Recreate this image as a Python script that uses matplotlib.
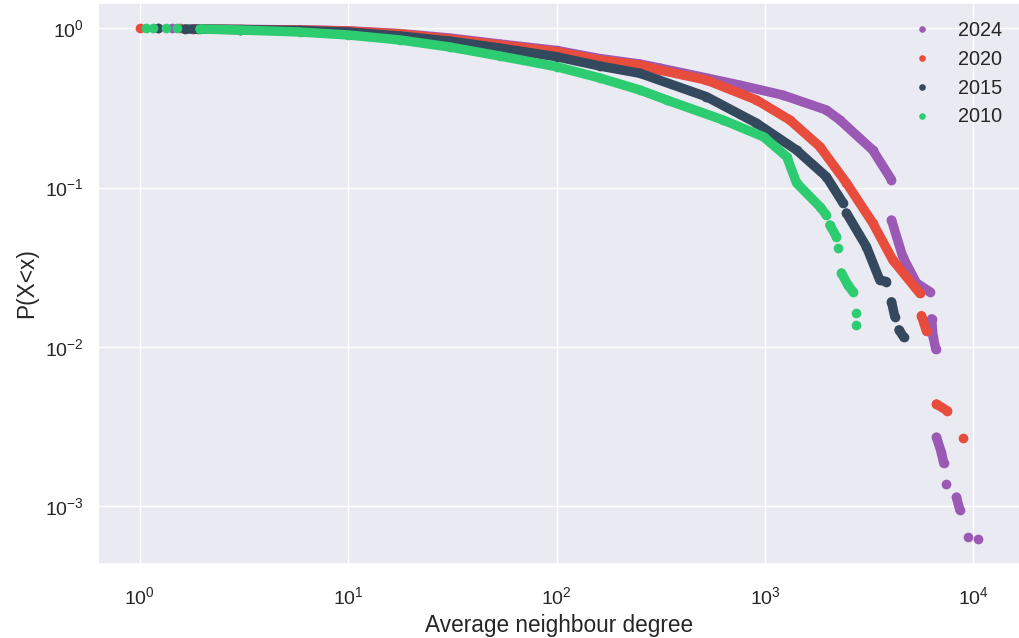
import numpy as np
import matplotlib
matplotlib.use("Agg")
import matplotlib.pyplot as plt
import seaborn as sns

nan = np.nan

years = ["2024", "2020", "2015", "2010"]
colors = ["#9b59b6", "#e74c3c", "#34495e", "#2ecc71"]

# Average neighbour degree (x) and P(X<x) (y).
# nan splits the curve where the dots have gaps.
x_2024 = [1.42, nan, 1.9, 3.02, 5.86, 10, 17.7, 30.7, 53.4, 100, 161, 251, 313,
          524, 757, 1217, 1972, 2285, 3290, 4048, nan,
          4048, 4584, 5333, 6180, nan, 6300, 6412, 6604, nan,
          6653, 7030, 7211, nan, 7377, nan, 8300, 8610, nan, 9436, nan, 10540]
y_2024 = [1.0, nan, 0.99, 0.984, 0.978, 0.964, 0.927, 0.869, 0.797, 0.726, 0.646, 0.597, 0.563,
          0.488, 0.440, 0.381, 0.307, 0.266, 0.172, 0.112, nan,
          0.0626, 0.0368, 0.0252, 0.0222, nan, 0.0150, 0.0116, 0.00966, nan,
          0.00271, 0.00217, 0.00186, nan, 0.00137, nan, 0.00114, 0.000947, nan, 0.000638, nan, 0.000625]

x_2020 = [1.0, nan, 1.22, nan, 1.55, nan, 1.8, 3.02, 5.86, 10, 17.7, 30.7, 53.4, 100, 161, 251, 313,
          524, 910, 1315, 1833, 2461, 3290, 4105, 5534, nan,
          5637, 5960, nan, 6653, 7514, nan, 8928]
y_2020 = [1.0, nan, 1.0, nan, 1.0, nan, 0.99, 0.983, 0.976, 0.962, 0.921, 0.857, 0.786, 0.713, 0.632, 0.588, 0.547,
          0.473, 0.355, 0.266, 0.181, 0.107, 0.060, 0.0351, 0.0217, nan,
          0.0157, 0.0125, nan, 0.00438, 0.00396, nan, 0.00269]

x_2015 = [1.22, nan, 1.64, 3.02, 5.86, 10, 17.7, 30.7, 53.4, 100, 161, 251,
          524, 910, 1417, 1972, 2371, nan, 2461, 3069, 3554, 3828, nan,
          4048, 4198, nan, 4398, 4634]
y_2015 = [1.0, nan, 0.99, 0.983, 0.969, 0.948, 0.895, 0.832, 0.752, 0.663, 0.580, 0.522,
          0.372, 0.254, 0.172, 0.117, 0.080, nan, 0.0693, 0.0426, 0.0263, 0.0257, nan,
          0.0192, 0.0155, nan, 0.0128, 0.0115]

x_2010 = [1.07, nan, 1.16, nan, 1.34, nan, 1.51, nan, 1.94, 3.02, 5.86, 10, 17.7, 30.7, 53.4, 100,
          161, 251, 337, 628, 987, 1273, 1417, 1833, 1972, nan,
          2046, 2203, nan, 2243, nan, 2329, 2496, 2646, nan, 2727, nan, 2748]
y_2010 = [1.0, nan, 1.0, nan, 1.0, nan, 1.0, nan, 0.99, 0.976, 0.948, 0.908, 0.845, 0.763, 0.670, 0.574,
          0.488, 0.410, 0.355, 0.266, 0.208, 0.156, 0.107, 0.0759, 0.0673, nan,
          0.0582, 0.0492, nan, 0.0418, nan, 0.0291, 0.0245, 0.0222, nan, 0.0163, nan, 0.0137]

xs = [x_2024, x_2020, x_2015, x_2010]
ys = [y_2024, y_2020, y_2015, y_2010]

sns.set_theme(style="darkgrid")
plt.rcParams["font.family"] = ["Liberation Sans", "DejaVu Sans"]

fig = plt.figure(figsize=(10.19, 6.38), dpi=100)
ax = fig.add_axes([98 / 1019, 73.8 / 638, 922 / 1019, 561.4 / 638])

for x, y, year, c in zip(xs, ys, years, colors):
    ax.plot(x, y, "-", lw=6.8, color=c, solid_capstyle="round", solid_joinstyle="round")
    ax.plot(x, y, "o", ms=7, mew=0, color=c, label=year)

ax.set_xscale("log")
ax.set_yscale("log")

ax.set_xlabel("Average neighbour degree", fontsize=16.3, labelpad=4)
ax.set_ylabel("P(X<x)", fontsize=16.3, labelpad=5)
ax.tick_params(axis="x", labelsize=14, pad=10)
ax.tick_params(axis="y", labelsize=14, pad=4)

ax.legend(loc="upper right", frameon=False, fontsize=14.3, markerscale=0.68,
          bbox_to_anchor=(1.0, 1.0))

fig.savefig("out.png", dpi=100)
